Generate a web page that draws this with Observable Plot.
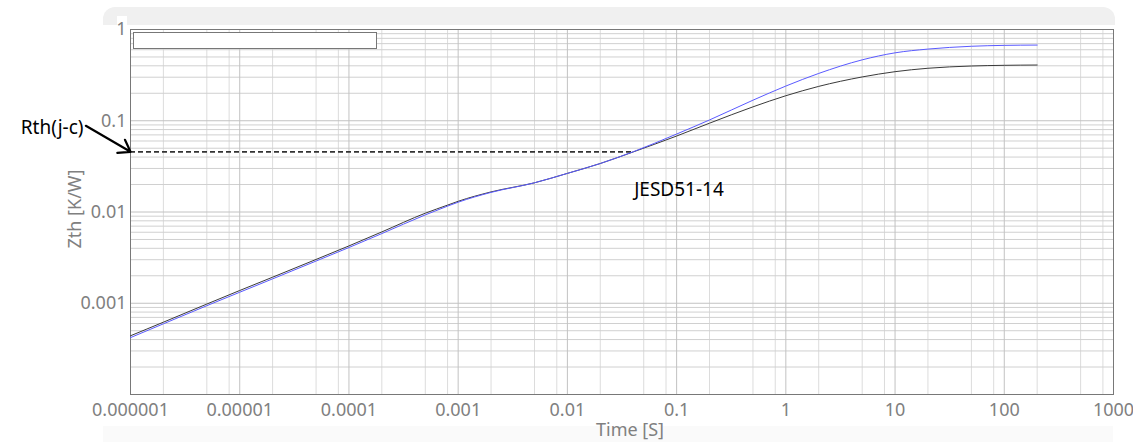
<!DOCTYPE html>
<html>
<head>
<meta charset="utf-8">
<script src="https://cdn.jsdelivr.net/npm/d3@7"></script>
<script src="https://cdn.jsdelivr.net/npm/@observablehq/plot@0.6"></script>
<style>
  html, body { margin: 0; padding: 0; background: white; }
  #wrap { position: relative; width: 1133px; height: 442px; overflow: hidden; }
  #topband { position: absolute; left: 103px; top: 7px; width: 1012px; height: 18px; background: #f0f0f0; border-radius: 12px 12px 0 0; }
  #notch { position: absolute; left: 117px; top: 16px; width: 10px; height: 9px; background: white; }
  #botband { position: absolute; left: 103px; top: 426px; width: 1010px; height: 16px; background: #fafafa; }
  #legend { position: absolute; left: 133px; top: 32px; width: 242px; height: 15px; background: white; border: 1px solid #777; z-index: 3; }
  #chart { position: absolute; left: 0; top: 0; z-index: 2; }
</style>
</head>
<body>
<div id="wrap">
  <div id="topband"></div>
  <div id="notch"></div>
  <div id="botband"></div>
  <div id="chart"></div>
  <div id="legend"></div>
</div>
<script>
// ---- data ----
const times = [1e-6, 2e-6, 5e-6, 1e-5, 2e-5, 5e-5, 1e-4, 2e-4, 5e-4, 8e-4, 1e-3, 2e-3, 5e-3, 1e-2, 2e-2, 4e-2, 0.1, 0.2, 0.5, 1, 2, 5, 10, 20, 50, 100, 200];
const zthBlack = [4.4e-4, 6.2e-4, 9.8e-4, 1.38e-3, 1.93e-3, 3.02e-3, 4.25e-3, 6.05e-3, 9.7e-3, 0.0119, 0.0131, 0.0166, 0.0209, 0.0265, 0.0340, 0.0455, 0.068, 0.094, 0.142, 0.188, 0.238, 0.302, 0.345, 0.376, 0.398, 0.405, 0.408];
const zthBlue  = [4.2e-4, 5.95e-4, 9.4e-4, 1.32e-3, 1.85e-3, 2.9e-3, 4.08e-3, 5.8e-3, 9.3e-3, 0.0116, 0.0128, 0.0164, 0.0209, 0.0265, 0.0340, 0.0457, 0.0715, 0.102, 0.168, 0.240, 0.330, 0.465, 0.555, 0.61, 0.655, 0.67, 0.675];

const xTickValues = [1e-6, 1e-5, 1e-4, 1e-3, 1e-2, 1e-1, 1, 10, 100, 1000];
const xTickLabels = ["0.000001", "0.00001", "0.0001", "0.001", "0.01", "0.1", "1", "10", "100", "1000"];
const yTickValues = [1e-3, 1e-2, 1e-1, 1];
const yTickLabels = ["0.001", "0.01", "0.1", "1"];
const yMajor = [1e-4, 1e-3, 1e-2, 1e-1, 1];
const xMinorMultipliers = [2, 5, 8];
const yMinorMultipliers = [2, 3, 4, 5, 6, 7, 8, 9];
const xDecades = [1e-6, 1e-5, 1e-4, 1e-3, 1e-2, 1e-1, 1, 10, 100];
const yDecades = [1e-4, 1e-3, 1e-2, 1e-1];

const xTitle = "Time [S]";
const yTitle = "Zth [K/W]";
const rthValue = 0.0457;      // Rth(j-c) level
const rthStart = 1e-6;
const rthEnd = 0.04;          // where dashed line meets the curve
const arrowTail = {t: 3.9e-7, z: 0.088};
const rthLabel = "Rth(j-c)";
const jesdLabel = "JESD51-14";

// ---- build tables ----
const blackRows = times.map((t, i) => ({t, z: zthBlack[i]}));
const blueRows = times.map((t, i) => ({t, z: zthBlue[i]}));
const xMinor = xDecades.flatMap(d => xMinorMultipliers.map(m => d * m));
const yMinor = yDecades.flatMap(d => yMinorMultipliers.map(m => d * m));
const xFmt = new Map(xTickValues.map((v, i) => [v, xTickLabels[i]]));
const yFmt = new Map(yTickValues.map((v, i) => [v, yTickLabels[i]]));

const chart = Plot.plot({
  width: 1133,
  height: 442,
  marginLeft: 130,
  marginRight: 20,
  marginTop: 29,
  marginBottom: 48,
  style: {background: "transparent", fontFamily: "'Noto Sans', sans-serif", fontSize: "18px", color: "#808080", overflow: "visible"},
  x: {type: "log", domain: [1e-6, 1000]},
  y: {type: "log", domain: [1e-4, 1]},
  marks: [
    Plot.ruleX(xMinor, {stroke: "#dcdcdc", strokeWidth: 1}),
    Plot.ruleY(yMinor, {stroke: "#d0d0d0", strokeWidth: 1}),
    Plot.ruleX(xTickValues, {stroke: "#c2c2c2", strokeWidth: 1}),
    Plot.ruleY(yMajor, {stroke: "#c2c2c2", strokeWidth: 1}),
    Plot.frame({stroke: "#787878"}),
    Plot.axisX({ticks: xTickValues, tickFormat: d => xFmt.get(d), tickSize: 0, tickPadding: 9, label: null, fill: "#808080", fontSize: 18}),
    Plot.axisY({ticks: yTickValues, tickFormat: d => yFmt.get(d), tickSize: 0, tickPadding: 4, label: null, fill: "#808080", fontSize: 18}),
    Plot.text([xTitle], {text: d => d, frameAnchor: "bottom", textAnchor: "middle", lineAnchor: "middle", dy: 36, dx: 8, fill: "#808080", fontSize: 18}),
    Plot.text([yTitle], {text: d => d, frameAnchor: "left", textAnchor: "middle", lineAnchor: "middle", rotate: -90, dx: -55, dy: -3, fill: "#808080", fontSize: 18}),
    Plot.ruleY([{z: rthValue, t1: rthStart, t2: rthEnd}], {y: "z", x1: "t1", x2: "t2", stroke: "#333", strokeWidth: 1.8, strokeDasharray: "5,3"}),
    Plot.line(blackRows, {x: "t", y: "z", stroke: "#3a3a3a", strokeWidth: 1, curve: "monotone-x"}),
    Plot.line(blueRows, {x: "t", y: "z", stroke: "#5a5aff", strokeWidth: 1, curve: "monotone-x"}),
    Plot.arrow([{x1: arrowTail.t, y1: arrowTail.z, x2: rthStart, y2: rthValue}], {x1: "x1", y1: "y1", x2: "x2", y2: "y2", stroke: "black", strokeWidth: 2.2, headLength: 9, headAngle: 70}),
    Plot.text([{t: rthStart, z: rthValue, label: rthLabel}], {x: "t", y: "z", text: "label", dx: -47, dy: -24, textAnchor: "end", fill: "black", fontSize: 19}),
    Plot.text([{t: rthEnd, z: rthValue, label: jesdLabel}], {x: "t", y: "z", text: "label", dx: 1, dy: 38, textAnchor: "start", fill: "black", fontSize: 19})
  ]
});
document.getElementById("chart").appendChild(chart);
</script>
</body>
</html>
